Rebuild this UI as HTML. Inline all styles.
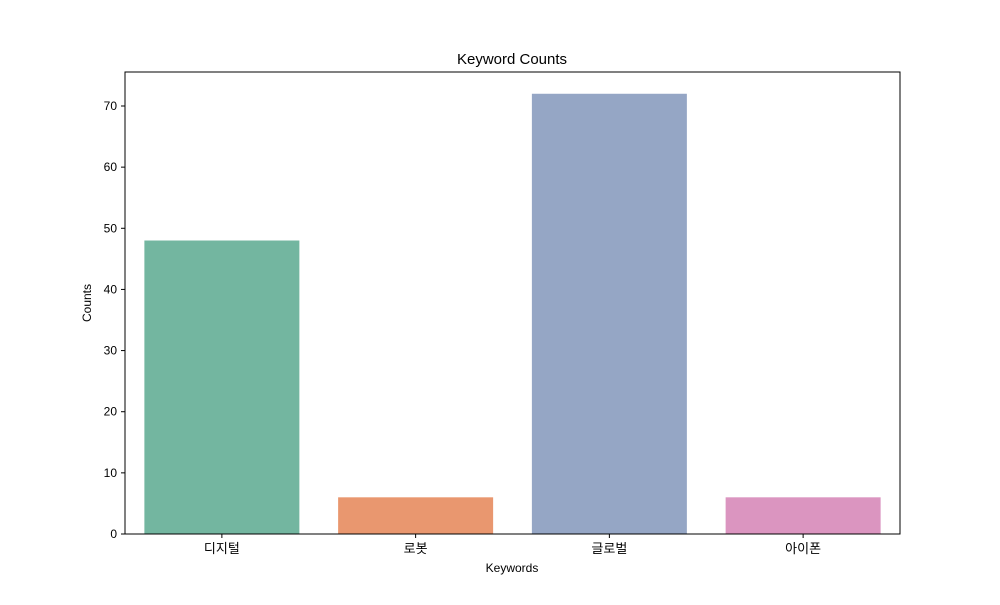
<!DOCTYPE html>
<html><head><meta charset="utf-8"><style>
body{margin:0;background:#fff}
svg text{font-family:"Liberation Sans","Noto Sans CJK KR",sans-serif;fill:#000}
</style></head><body>
<svg id="chart" width="1000" height="600">
<rect width="1000" height="600" fill="#fff"/>
<text x="512" y="64" text-anchor="middle" font-size="15">Keyword Counts</text>
<g id="bars"></g>
<g id="axes"></g>
<text x="512" y="572" text-anchor="middle" font-size="12">Keywords</text>
<text transform="translate(91,303) rotate(-90)" text-anchor="middle" font-size="12">Counts</text>
</svg>
<script>
const categories=["디지털","로봇","글로벌","아이폰"];
const values=[48,6,72,6];
const colors=["#73b6a0","#e9976f","#95a6c5","#db95c0"];
const yTicks=[0,10,20,30,40,50,60,70];
const L=125,R=900,T=72,B=534;
const ns="http://www.w3.org/2000/svg";
const y=v=>B-v*(428/70);
const step=(R-L)/categories.length;
const x=i=>L+step*(i+0.5);
const bars=document.getElementById('bars'),axes=document.getElementById('axes');
function mk(t,a,p){const e=document.createElementNS(ns,t);for(const k in a)e.setAttribute(k,a[k]);p.appendChild(e);return e;}
categories.forEach((c,i)=>{
 const r=mk('rect',{x:x(i)-step*0.4,y:y(values[i]),width:step*0.8,height:B-y(values[i]),fill:colors[i]},bars);
 
 
 mk('line',{x1:x(i),x2:x(i),y1:B,y2:B+4,stroke:'#000','stroke-width':1},axes);
 const t=mk('text',{x:x(i),y:B+19,'text-anchor':'middle','font-size':13},axes);
 t.textContent=c;
 
 
});
yTicks.forEach(v=>{
 mk('line',{x1:L-4,x2:L,y1:y(v),y2:y(v),stroke:'#000','stroke-width':1},axes);
 const t=mk('text',{x:L-8,y:y(v)+4,'text-anchor':'end','font-size':12},axes);
 t.textContent=v;
 
 
});
const f=mk('rect',{x:L,y:T,width:R-L,height:B-T,fill:'none',stroke:'#000','stroke-width':1},axes);


</script>
</body></html>
